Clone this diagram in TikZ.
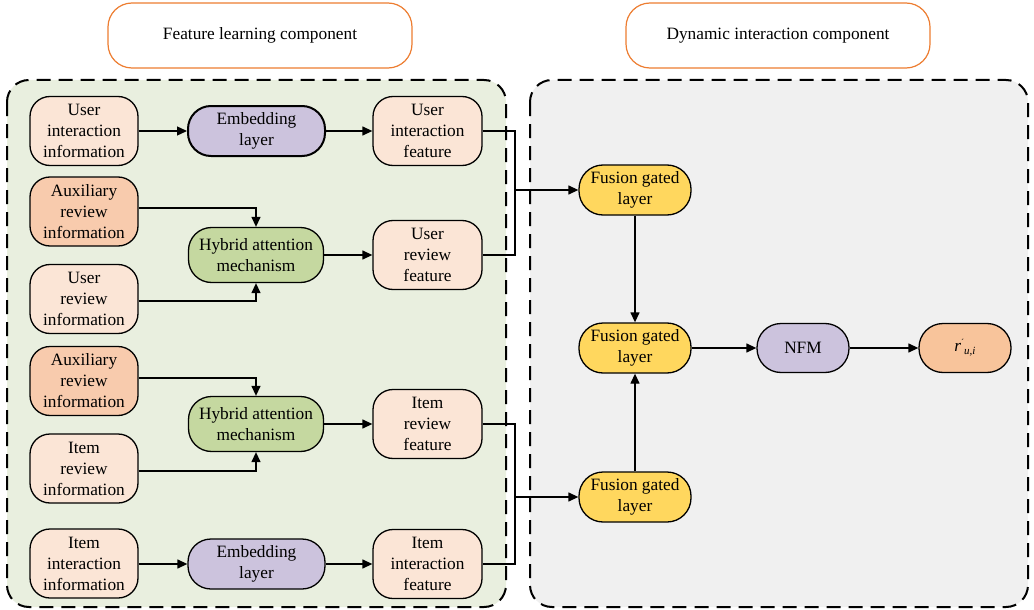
\documentclass[tikz,border=0pt]{standalone}
\usepackage{fontspec}
\setmainfont{Liberation Serif}
\usetikzlibrary{arrows.meta}
\definecolor{peach}{HTML}{FBE5D6}
\definecolor{auxc}{HTML}{F8CBAD}
\definecolor{lav}{HTML}{CCC3DD}
\definecolor{grn}{HTML}{C5D8A0}
\definecolor{ylw}{HTML}{FFD75E}
\definecolor{rout}{HTML}{F8C49B}
\definecolor{lpanel}{HTML}{E9EFDF}
\definecolor{rpanel}{HTML}{F0F0F0}
\definecolor{orng}{HTML}{ED7D31}
\tikzset{
  every node/.style={font=\fontsize{17.3}{21}\selectfont, align=center, inner sep=0pt},
  box/.style={draw=black, line width=1.3pt, rounded corners=20pt},
  infobox/.style={box, fill=peach, minimum width=108pt, minimum height=69pt},
  auxbox/.style={box, fill=auxc, minimum width=108pt, minimum height=69pt},
  featbox/.style={box, fill=peach, minimum width=109pt, minimum height=69pt},
  embbox/.style={box, fill=lav, minimum width=137pt, minimum height=50pt, rounded corners=23pt},
  hybbox/.style={box, fill=grn, minimum width=135pt, minimum height=55pt, rounded corners=23pt},
  fusbox/.style={box, fill=ylw, minimum width=112pt, minimum height=50pt, rounded corners=24pt},
  pill/.style={box, minimum width=92pt, minimum height=49pt, rounded corners=24pt},
  header/.style={draw=orng, line width=1.2pt, fill=white, rounded corners=24pt, minimum width=304pt, minimum height=65pt},
  panel/.style={dashed, dash pattern=on 14pt off 8pt, line width=2pt, rounded corners=22pt, draw=black},
  arr/.style={line width=1.3pt, -{Triangle[length=10pt,width=9pt]}},
  ln/.style={line width=1.3pt}
}
\begin{document}
\begin{tikzpicture}[x=1pt,y=-1pt]
\useasboundingbox (0,0) rectangle (1034,610);
% panels
\draw[panel, fill=lpanel] (7,80) rectangle (506,607);
\draw[panel, fill=rpanel] (530,80) rectangle (1028,607);
% headers
\node[header] (h1) at (260,35.5) {Feature learning component};
\node[header] (h2) at (778,35.5) {Dynamic interaction component};
% left column
\node[infobox] (uii) at (84,131) {User\\interaction\\information};
\node[embbox, line width=2pt] (emb1) at (256.5,131) {Embedding\\layer};
\node[featbox] (uif) at (427.5,131) {User\\interaction\\feature};
\node[auxbox] (aux1) at (84,211.5) {Auxiliary\\review\\information};
\node[hybbox] (hyb1) at (256,255) {Hybrid attention\\mechanism};
\node[featbox] (urf) at (427.5,255) {User\\review\\feature};
\node[infobox] (uri) at (84,299) {User\\review\\information};
\node[auxbox] (aux2) at (84,381) {Auxiliary\\review\\information};
\node[hybbox] (hyb2) at (256,424) {Hybrid attention\\mechanism};
\node[featbox] (irf) at (427.5,424) {Item\\review\\feature};
\node[infobox] (iri) at (84,468.5) {Item\\review\\information};
\node[infobox] (iii) at (84,563.5) {Item\\interaction\\information};
\node[embbox] (emb2) at (256.5,564) {Embedding\\layer};
\node[featbox] (iif) at (427.5,564) {Item\\interaction\\feature};
% right column
\node[fusbox] (fg1) at (635,190) {Fusion gated\\layer};
\node[fusbox] (fg2) at (635,348) {Fusion gated\\layer};
\node[fusbox] (fg3) at (635,497) {Fusion gated\\layer};
\node[pill, fill=lav] (nfm) at (803,348) {NFM};
\node[pill, fill=rout] (rui) at (965,348) {\textit{r}\raisebox{6pt}{\fontsize{9}{9}\selectfont\textasciiacute}\raisebox{-3pt}{\fontsize{11}{11}\selectfont\textit{u,i}}};
\coordinate (j1) at (515,190);
\coordinate (j2) at (515,497);
% connectors
\draw[arr] (uii) -- (emb1);
\draw[arr] (emb1) -- (uif);
\draw[arr] (aux1.east |- 0,208) -| (hyb1.north);
\draw[arr] (uri.east |- 0,301) -| (hyb1.south);
\draw[arr] (hyb1) -- (urf);
\draw[arr] (aux2.east |- 0,378) -| (hyb2.north);
\draw[arr] (iri.east |- 0,471) -| (hyb2.south);
\draw[arr] (hyb2) -- (irf);
\draw[arr] (iii.east |- emb2) -- (emb2.west);
\draw[arr] (emb2) -- (iif);
\draw[ln] (uif.east) -| (j1) |- (urf.east);
\draw[ln] (irf.east) -| (j2) |- (iif.east);
\draw[arr] (j1) -- (fg1.west);
\draw[arr] (j2) -- (fg3.west);
\draw[arr] (fg1) -- (fg2);
\draw[arr] (fg3) -- (fg2);
\draw[arr] (fg2) -- (nfm);
\draw[arr] (nfm) -- (rui);
\end{tikzpicture}
\end{document}
